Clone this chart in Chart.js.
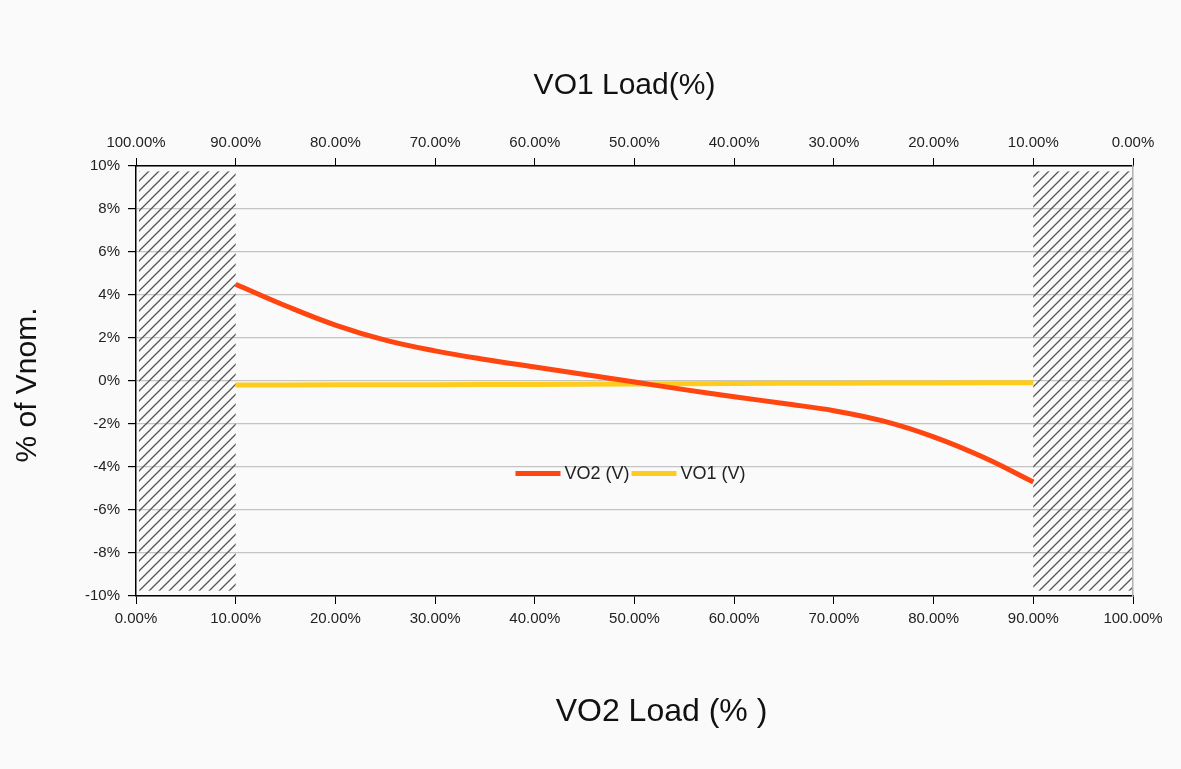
<!DOCTYPE html>
<html>
<head>
<meta charset="utf-8">
<title>VO1 / VO2 Load</title>
<script src="https://cdn.jsdelivr.net/npm/chart.js@4/dist/chart.umd.min.js"></script>
<style>
    body { margin: 0; background: #fafafa; }
    canvas { display: block; }
</style>
</head>
<body>
<canvas id="canvas1" width="1181" height="769"></canvas>
<script>
// DONNEES
let loadVO2 = [10, 15, 20, 25, 30, 35, 40, 45, 50, 55, 60, 65, 70, 75, 80, 85, 90];
let vo2Values = [4.5, 3.5, 2.6, 1.9, 1.4, 1.0, 0.65, 0.3, -0.05, -0.4, -0.73, -1.05, -1.38, -1.87, -2.6, -3.55, -4.7];
let loadVO1 = [10, 20, 30, 40, 50, 60, 70, 80, 90];
let vo1Values = [-0.19, -0.18, -0.17, -0.16, -0.14, -0.12, -0.10, -0.09, -0.08];

// zones hachurées (en % de charge VO2, et % de Vnom)
let hatchZonesX = [[0.3, 10], [90, 99.9]];
let hatchZoneY = [-9.75, 9.75];

// titres des axes
let titleTop = 'VO1 Load(%)';
let titleBottom = 'VO2 Load (% )';
let titleLeft = '% of Vnom.';

let fontName = '"Liberation Sans", Arial, sans-serif';

function toPoints(xs, ys) {
    let pts = [];
    for (let i = 0; i < xs.length; i++) {
        pts.push({x: xs[i], y: ys[i]});
    }
    return pts;
}

// motif de hachures
function makeHatch() {
    let c = document.createElement('canvas');
    c.width = 10;
    c.height = 10;
    let g = c.getContext('2d');
    g.strokeStyle = '#555';
    g.lineWidth = 1.3;
    g.beginPath();
    g.moveTo(0, 10); g.lineTo(10, 0);
    g.moveTo(-1, 1); g.lineTo(1, -1);
    g.moveTo(9, 11); g.lineTo(11, 9);
    g.stroke();
    return g.createPattern(c, 'repeat');
}

// plugin : zones hachurées
let hatchPlugin = {
    id: 'hatch',
    beforeDatasetsDraw: function (chart) {
        let ctx = chart.ctx;
        let xs = chart.scales.x;
        let ys = chart.scales.y;
        let pattern = makeHatch();
        ctx.save();
        hatchZonesX.forEach(zone => {
            let x1 = xs.getPixelForValue(zone[0]);
            let x2 = xs.getPixelForValue(zone[1]);
            let y1 = ys.getPixelForValue(hatchZoneY[1]);
            let y2 = ys.getPixelForValue(hatchZoneY[0]);
            ctx.fillStyle = pattern;
            ctx.fillRect(x1, y1, x2 - x1, y2 - y1);
        });
        ctx.restore();
    }
};

// plugin : légende au milieu du graphique
let midLegendPlugin = {
    id: 'midLegend',
    afterDatasetsDraw: function (chart) {
        let ctx = chart.ctx;
        let area = chart.chartArea;
        let sets = chart.data.datasets;
        let lineW = 45;
        let gap = 4;
        ctx.save();
        ctx.font = '18px ' + fontName;
        let total = 0;
        sets.forEach(ds => {
            total += lineW + gap + ctx.measureText(ds.label).width + 2;
        });
        let x = (area.left + area.right) / 2 - total / 2 - 3;
        let y = chart.scales.y.getPixelForValue(-4.3);
        sets.forEach(ds => {
            ctx.strokeStyle = ds.borderColor;
            ctx.lineWidth = 5;
            ctx.beginPath();
            ctx.moveTo(x, y);
            ctx.lineTo(x + lineW, y);
            ctx.stroke();
            x += lineW + gap;
            ctx.fillStyle = '#222';
            ctx.textBaseline = 'middle';
            ctx.fillText(ds.label, x, y + 1);
            x += ctx.measureText(ds.label).width + 2;
        });
        ctx.restore();
    }
};

// plugin : titres des axes (pas centrés exactement sur l'axe)
let axisTitlesPlugin = {
    id: 'axisTitles',
    afterDraw: function (chart) {
        let ctx = chart.ctx;
        let area = chart.chartArea;
        let mid = (area.left + area.right) / 2;
        ctx.save();
        ctx.fillStyle = '#111';
        ctx.textAlign = 'center';
        ctx.textBaseline = 'middle';
        ctx.font = '30px ' + fontName;
        ctx.fillText(titleTop, mid - 10, 86);
        ctx.font = '32px ' + fontName;
        ctx.fillText(titleBottom, mid + 27, 712);
        ctx.translate(28, (area.top + area.bottom) / 2 + 4);
        ctx.rotate(-Math.PI / 2);
        ctx.font = '30px ' + fontName;
        ctx.fillText(titleLeft, 0, 0);
        ctx.restore();
    }
};

let pctLabel = function (v) {
    return v.toFixed(2) + '%';
};

let ctx = document.getElementById('canvas1').getContext('2d');

let config = {
    type: 'line',
    data: {
        datasets: [{
            label: 'VO2 (V)',
            data: toPoints(loadVO2, vo2Values),
            borderColor: '#ff4510',
            borderWidth: 5,
            pointRadius: 0,
            tension: 0.4,
            xAxisID: 'x',
            yAxisID: 'y'
        }, {
            label: 'VO1 (V)',
            data: toPoints(loadVO1, vo1Values),
            borderColor: '#ffcc1e',
            borderWidth: 5,
            pointRadius: 0,
            tension: 0.4,
            xAxisID: 'x',
            yAxisID: 'y'
        }]
    },
    options: {
        responsive: false,
        animation: false,
        layout: { padding: 0 },
        plugins: {
            legend: { display: false },
            tooltip: { enabled: false }
        },
        scales: {
            x: {
                type: 'linear',
                position: 'bottom',
                min: 0,
                max: 100,
                ticks: {
                    stepSize: 10,
                    callback: pctLabel,
                    color: '#222',
                    padding: 6,
                    maxRotation: 0,
                    font: { family: fontName, size: 15 }
                },
                grid: { drawOnChartArea: false, color: '#000', tickLength: 8 },
                border: { color: '#000', width: 1.5 },
                afterFit: function (scale) { scale.height = 173; }
            },
            x2: {
                type: 'linear',
                position: 'top',
                reverse: true,
                min: 0,
                max: 100,
                ticks: {
                    stepSize: 10,
                    callback: pctLabel,
                    color: '#222',
                    padding: 6,
                    maxRotation: 0,
                    font: { family: fontName, size: 15 }
                },
                grid: { drawOnChartArea: false, color: '#000', tickLength: 8 },
                border: { color: '#000', width: 1.5 },
                afterFit: function (scale) { scale.height = 166; }
            },
            y: {
                type: 'linear',
                position: 'left',
                min: -10,
                max: 10,
                ticks: {
                    stepSize: 2,
                    callback: function (v) { return v + '%'; },
                    color: '#222',
                    padding: 8,
                    font: { family: fontName, size: 15 }
                },
                grid: { color: '#c4c4c4', tickColor: '#000', tickLength: 8, lineWidth: 1.2 },
                border: { color: '#000', width: 1.5 },
                afterFit: function (scale) { scale.width = 136; }
            },
            y2: {
                type: 'linear',
                position: 'right',
                min: -10,
                max: 10,
                ticks: { display: false },
                grid: { drawOnChartArea: false, drawTicks: false },
                border: { color: '#b0b0b0', width: 1.5 },
                afterFit: function (scale) { scale.width = 48; }
            }
        }
    },
    plugins: [hatchPlugin, midLegendPlugin, axisTitlesPlugin]
};

// Initialisation du graph
let loadChart = new Chart(ctx, config);
</script>
</body>
</html>
